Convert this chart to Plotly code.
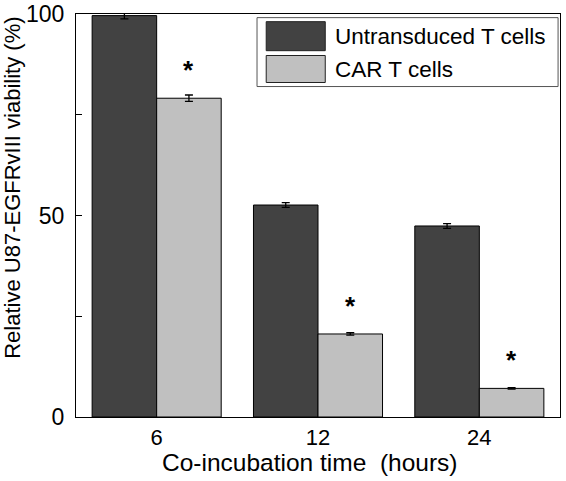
import plotly.graph_objects as go

categories = ["6", "12", "24"]
series_names = ["Untransduced T cells", "CAR T cells"]
untransduced = [99.6, 52.6, 47.4]
untransduced_err = [0.8, 0.6, 0.6]
car = [79.1, 20.6, 7.1]
car_err = [0.8, 0.3, 0.2]
significant = ["*", "*", "*"]
y_tickvals = [0, 25, 50, 75, 100]
y_ticktext = ["0", "", "50", "", "100"]
x_title = "Co-incubation time\u00a0\u00a0(hours)"
y_title = "Relative U87-EGFRvIII viability (%)"

FONT = "Liberation Sans, Arial, sans-serif"
DARK = "#424242"
LIGHT = "#c0c0c0"

fig = go.Figure()
fig.add_trace(go.Bar(
    x=categories, y=untransduced, name=series_names[0],
    marker=dict(color=DARK, line=dict(color="black", width=1)),
    error_y=dict(type="data", array=untransduced_err, color="black", thickness=1.3, width=4),
    showlegend=False,
))
fig.add_trace(go.Bar(
    x=categories, y=car, name=series_names[1],
    marker=dict(color=LIGHT, line=dict(color="black", width=1)),
    error_y=dict(type="data", array=car_err, color="black", thickness=1.3, width=4),
    showlegend=False,
))

# significance asterisks above CAR bars
for i, (v, s) in enumerate(zip(car, significant)):
    fig.add_annotation(x=i, y=v + 8, text="<b>%s</b>" % s, showarrow=False,
                       xref="x", yref="y", xshift=32, yshift=-4,
                       font=dict(family=FONT, size=26, color="black"))

# custom legend (boxed, large swatches)
fig.add_shape(type="rect", xref="paper", yref="paper", x0=0.374, x1=0.996, y0=0.820, y1=0.991,
              line=dict(color="#555555", width=1), fillcolor="white")
sw = [(0.909, 0.981, DARK), (0.830, 0.897, LIGHT)]
for (y0, y1, col), name in zip(sw, series_names):
    fig.add_shape(type="rect", xref="paper", yref="paper", x0=0.393, x1=0.515, y0=y0, y1=y1,
                  line=dict(color="#222222", width=1), fillcolor=col)
    fig.add_annotation(xref="paper", yref="paper", x=0.531, y=(y0 + y1) / 2, text=name,
                       showarrow=False, xanchor="left", yanchor="middle",
                       font=dict(family=FONT, size=22.5, color="black"))

# axis titles
fig.add_annotation(xref="paper", yref="paper", x=0.483, y=-0.1135, text=x_title,
                   showarrow=False, xanchor="center", yanchor="middle",
                   font=dict(family=FONT, size=24.5, color="black"))
fig.add_annotation(xref="paper", yref="paper", x=-0.130, y=0.569, text=y_title,
                   showarrow=False, xanchor="center", yanchor="middle", textangle=-90,
                   font=dict(family=FONT, size=22, color="black"))

fig.update_layout(
    width=566, height=481,
    margin=dict(l=76, r=6, t=14, b=64, autoexpand=False),
    paper_bgcolor="white", plot_bgcolor="white",
    barmode="group", bargap=0.2, bargroupgap=0,
    font=dict(family=FONT, size=22, color="black"),
)
fig.update_xaxes(
    range=[-0.5, 2.5], showline=True, linecolor="black", linewidth=1.3, mirror=True,
    ticks="", showgrid=False, tickfont=dict(size=22), automargin=False,
)
fig.update_yaxes(
    range=[0, 100], showline=True, linecolor="black", linewidth=1.3, mirror=True,
    tickvals=y_tickvals, ticktext=y_ticktext, ticks="inside", ticklen=6, tickcolor="black",
    showgrid=False, zeroline=False, tickfont=dict(size=23), ticklabelstandoff=6,
    automargin=False,
)

fig.write_html("out.html", config={"displayModeBar": False},
               post_script="document.body.style.margin='0';document.body.style.overflow='hidden';")
